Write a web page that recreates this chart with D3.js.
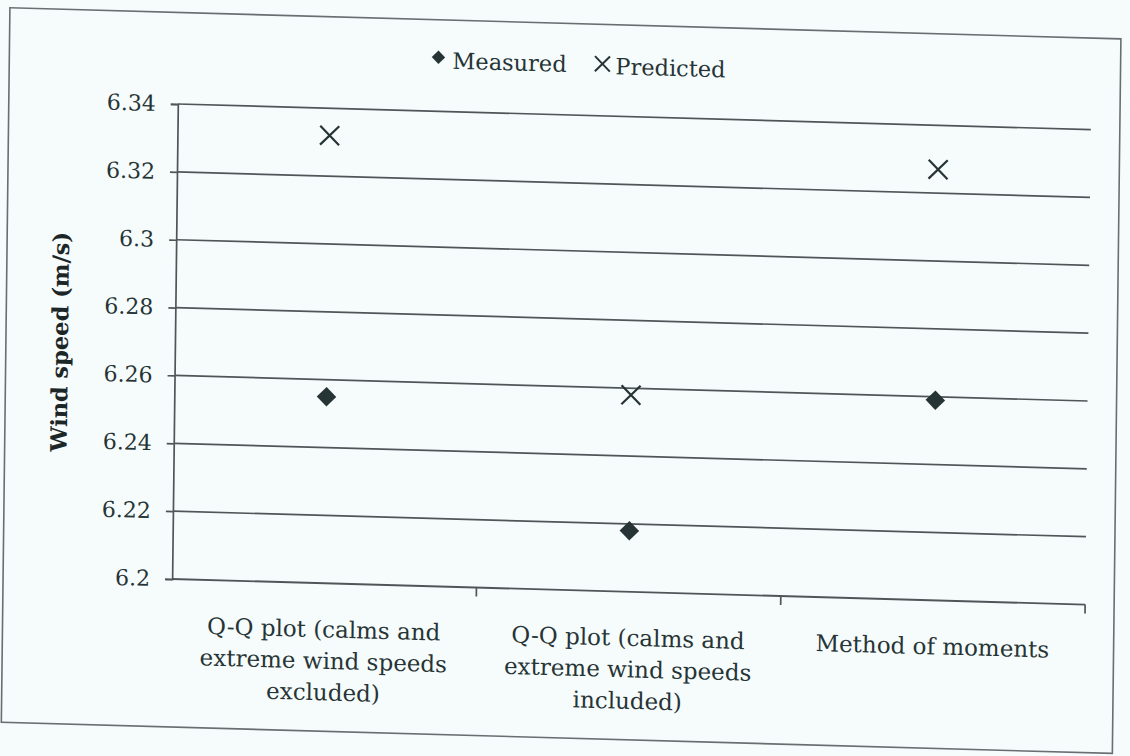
<!DOCTYPE html>
<html>
<head>
<meta charset="utf-8">
<script src="https://cdn.jsdelivr.net/npm/d3@7"></script>
<style>
  html, body { margin: 0; padding: 0; background: #f6fbfc; }
  svg { display: block; }
</style>
</head>
<body>
<svg id="chart" width="1130" height="756"></svg>
<script>
// Wind speed comparison: measured vs predicted mean wind speed by estimation method
const categories = ["qq-excluded", "qq-included", "moments"];
const categoryLines = [
  ["Q-Q plot (calms and", "extreme wind speeds", "excluded)"],
  ["Q-Q plot (calms and", "extreme wind speeds", "included)"],
  ["Method of moments"]
];
const measured = [6.255, 6.218, 6.259];
const predicted = [6.332, 6.258, 6.327];
const yTicks = [6.2, 6.22, 6.24, 6.26, 6.28, 6.3, 6.32, 6.34];
const yTickLabels = ["6.2", "6.22", "6.24", "6.26", "6.28", "6.3", "6.32", "6.34"];
const seriesNames = ["Measured", "Predicted"];

const ink = "#263435";
const lineColor = "#4f5658";
const serif = "'DejaVu Serif', 'Liberation Serif', serif";

const svg = d3.select("#chart");
svg.append("rect").attr("width", 1130).attr("height", 756).attr("fill", "#f6fbfc");

// page is slightly skewed, as on a scanned sheet
const g = svg.append("g").attr("transform", "matrix(1,0.028,-0.012,1,0,0)");

// outer frame
g.append("rect")
  .attr("x", 10).attr("y", 7.5).attr("width", 1111).attr("height", 714.5)
  .attr("fill", "none").attr("stroke", "#686f71").attr("stroke-width", 1.6);

const x = d3.scaleBand().domain(categories).range([179, 1092]);
const y = d3.scaleLinear().domain([6.2, 6.34]).range([574, 99]);

// horizontal gridlines
g.append("g").selectAll("line")
  .data(yTicks.filter(t => t !== 6.2))
  .join("line")
  .attr("x1", x.range()[0]).attr("x2", x.range()[1])
  .attr("y1", d => y(d)).attr("y2", d => y(d))
  .attr("stroke", lineColor).attr("stroke-width", 1.7);

// y axis
const yAxis = g.append("g")
  .attr("transform", `translate(${x.range()[0]},0)`)
  .call(d3.axisLeft(y).tickValues(yTicks).tickSize(7).tickPadding(15)
    .tickFormat((d, i) => yTickLabels[i]));
yAxis.select(".domain").attr("stroke", lineColor).attr("stroke-width", 1.7);
yAxis.selectAll(".tick line").attr("stroke", lineColor).attr("stroke-width", 1.7);
yAxis.selectAll(".tick text")
  .attr("fill", ink).style("font-family", serif).style("font-size", "22px");

// x axis with ticks between categories
const y0 = y(6.2);
g.append("line")
  .attr("x1", x.range()[0]).attr("x2", x.range()[1])
  .attr("y1", y0).attr("y2", y0)
  .attr("stroke", lineColor).attr("stroke-width", 1.9);
const boundaries = categories.slice(1).map(c => x(c)).concat([x.range()[1]]);
g.append("g").selectAll("line")
  .data(boundaries)
  .join("line")
  .attr("x1", d => d).attr("x2", d => d)
  .attr("y1", y0).attr("y2", y0 + 9)
  .attr("stroke", lineColor).attr("stroke-width", 1.7);

// category labels
const catLabels = g.append("g").selectAll("text")
  .data(categories)
  .join("text")
  .attr("x", d => x(d) + x.bandwidth() / 2)
  .attr("y", 628)
  .attr("text-anchor", "middle")
  .attr("fill", ink)
  .style("font-family", serif).style("font-size", "23px");
catLabels.each(function(d, i) {
  d3.select(this).selectAll("tspan")
    .data(categoryLines[i])
    .join("tspan")
    .attr("x", x(d) + x.bandwidth() / 2)
    .attr("dy", (t, j) => j === 0 ? 0 : 31.5)
    .text(t => t);
});

// y axis title
g.append("text")
  .attr("transform", "translate(72,340) rotate(-90)")
  .attr("text-anchor", "middle")
  .attr("fill", "#1c2627")
  .style("font-family", serif).style("font-size", "22.5px").style("font-weight", "bold")
  .text("Wind speed (m/s)");

// markers
const diamond = d3.symbol().type(d3.symbolSquare);
function crossPath(cx, cy, r) {
  return `M${cx - r},${cy - r}L${cx + r},${cy + r}M${cx - r},${cy + r}L${cx + r},${cy - r}`;
}
const cx = c => x(c) + x.bandwidth() / 2;

g.append("g").selectAll("path")
  .data(categories)
  .join("path")
  .attr("d", diamond.size(190)())
  .attr("transform", (c, i) => `translate(${cx(c)},${y(measured[i])}) rotate(45)`)
  .attr("fill", ink);

g.append("g").selectAll("path")
  .data(categories)
  .join("path")
  .attr("d", (c, i) => crossPath(cx(c), y(predicted[i]), 9.5))
  .attr("fill", "none").attr("stroke", ink).attr("stroke-width", 2.2);

// legend
const legend = g.append("g");
legend.append("path")
  .attr("d", diamond.size(90)())
  .attr("transform", "translate(439,45) rotate(45)")
  .attr("fill", ink);
legend.append("text")
  .attr("x", 453).attr("y", 56)
  .attr("fill", ink).style("font-family", serif).style("font-size", "22.5px")
  .text(seriesNames[0]);
legend.append("path")
  .attr("d", crossPath(603, 47, 7.5))
  .attr("fill", "none").attr("stroke", ink).attr("stroke-width", 2);
legend.append("text")
  .attr("x", 616).attr("y", 57)
  .attr("fill", ink).style("font-family", serif).style("font-size", "22.5px")
  .text(seriesNames[1]);
</script>
</body>
</html>
